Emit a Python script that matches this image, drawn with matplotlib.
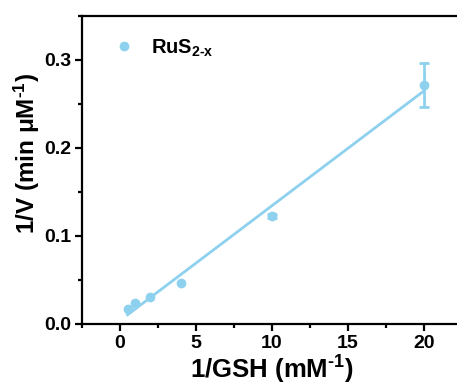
import numpy as np
import matplotlib
matplotlib.use("Agg")
import matplotlib.pyplot as plt
from matplotlib.ticker import MultipleLocator
from matplotlib.lines import Line2D

plt.rcParams['font.family'] = ['Liberation Sans', 'DejaVu Sans']
plt.rcParams['mathtext.fontset'] = 'custom'
plt.rcParams['mathtext.rm'] = 'Liberation Sans:bold'
plt.rcParams['mathtext.bf'] = 'Liberation Sans:bold'
plt.rcParams['mathtext.default'] = 'bf'

x_gsh = [0.5, 1.0, 2.0, 4.0, 10.0, 20.0]
y_inv_v = [0.0167, 0.0235, 0.031, 0.047, 0.1225, 0.2716]
y_err = [0.0, 0.0, 0.0, 0.0, 0.002, 0.025]
series_label = "RuS$_{2\\text{-}x}$"
color = '#8ED1EF'

fig = plt.figure(figsize=(4.57, 3.88), dpi=100)
ax = fig.add_axes([82/457, (388-324)/388, (462-82)/457, (324-15.5)/388])

xe = [x for x, e in zip(x_gsh, y_err) if e > 0]
ye = [y for y, e in zip(y_inv_v, y_err) if e > 0]
ee = [e for e in y_err if e > 0]
ax.errorbar(xe, ye, yerr=ee, fmt='none', ecolor=color,
            capsize=3.5, capthick=2, elinewidth=2, zorder=3)
ax.plot(x_gsh, y_inv_v, 'o', color=color, ms=6, zorder=4)
slope, intercept = np.polyfit(x_gsh, y_inv_v, 1)
xf = np.array([min(x_gsh), max(x_gsh)])
ax.plot(xf, slope*xf + intercept, color=color, lw=2, zorder=2)

ax.set_xlim(-2.5, 22.5)
ax.set_ylim(0, 0.35)
ax.xaxis.set_minor_locator(MultipleLocator(2.5))
ax.yaxis.set_minor_locator(MultipleLocator(0.05))
ax.set_yticks([0, 0.1, 0.2, 0.3])
ax.set_yticklabels(['0.0', '0.1', '0.2', '0.3'])
ax.set_xticks([0, 5, 10, 15, 20])
ax.set_xticklabels(['0', '5', '10', '15', '20'])

for s in ax.spines.values():
    s.set_linewidth(1.6)
ax.spines['right'].set_visible(False)
ax.tick_params(which='major', direction='out', length=5, width=1.6, labelsize=14, pad=3)
ax.tick_params(which='minor', direction='out', length=3, width=1.6)
for lbl in ax.get_xticklabels() + ax.get_yticklabels():
    lbl.set_fontweight('bold')

ax.set_xlabel('1/GSH (mM$^{\\text{-}1}$)', fontsize=18.5, fontweight='bold', labelpad=1)
ax.set_ylabel('1/V (min μM$^{\\text{-}1}$)', fontsize=17.5, fontweight='bold')
ax.yaxis.set_label_coords(-0.105, 0.551)

handle = Line2D([], [], marker='o', ls='none', color=color, ms=6)
leg = ax.legend([handle], [series_label], loc='center left', frameon=False, fontsize=14.5,
                handletextpad=0.95, borderaxespad=0, bbox_to_anchor=(0.09, 0.895),
                handlelength=0.8, borderpad=0)
for t in leg.get_texts():
    t.set_fontweight('bold')

fig.savefig('out.png', dpi=100)
